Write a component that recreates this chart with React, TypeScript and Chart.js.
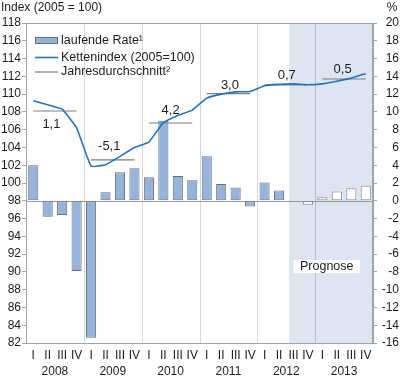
import React, { useEffect, useRef } from "react";
import { Chart, registerables } from "chart.js";

Chart.register(...registerables);

// ---- data ----
const quarterLabels = [
  "I", "II", "III", "IV",
  "I", "II", "III", "IV",
  "I", "II", "III", "IV",
  "I", "II", "III", "IV",
  "I", "II", "III", "IV",
  "I", "II", "III", "IV",
];
const years = ["2008", "2009", "2010", "2011", "2012", "2013"];

// laufende Rate (%), right axis
const laufendeRate = [
  4.0, -1.8, -1.6, -7.9,
  -15.4, 0.95, 3.2, 3.65,
  2.65, 9.0, 2.8, 2.3,
  5.0, 1.9, 1.5, -0.65,
  2.05, 1.15, 0.0, -0.45,
  0.4, 1.05, 1.4, 1.7,
];

// Kettenindex (2005=100), left axis
const kettenindex = [
  109.25, 108.8, 108.3, 106.2,
  101.9, 102.05, 103.0, 104.0,
  104.6, 106.8, 107.6, 108.2,
  109.55, 110.0, 110.25, 110.3,
  110.95, 111.1, 111.15, 111.05,
  111.15, 111.45, 111.8, 112.3,
];

// Jahresdurchschnitt (index level of the yearly average) and its rate label
const jahresdurchschnitt = [108.1, 102.6, 106.75, 110.05, 111.05, 111.7];
const jahresRate = ["1,1", "-5,1", "4,2", "3,0", "0,7", "0,5"];

const forecastStartIndex = 18; // 2012 Q3
const indexMin = 82;
const indexMax = 118;
const rateMin = -16;
const rateMax = 20;
const tickStep = 2;

// ---- styles ----
const FONT = '"Liberation Sans", Arial, Helvetica, sans-serif';
const TEXT = "#1c1c1c";
const BAR_BLUE = "#94b4dc";
const BAR_BORDER = "#66707c";
const FC_BORDER = "#8c8c8c";
const LINE_BLUE = "#1f74c4";
const AVG_GRAY = "#7d7d7d";
const SHADE = "#dee5f2";
const FRAME = "#a3a3a3";
const SEP = "#d6d6d6";
const SEP_SHADE = "#b7bfcd";

const avgData = quarterLabels.map((_, i) => jahresdurchschnitt[Math.floor(i / 4)]);

const decorPlugin = {
  id: "decor",
  beforeDatasetsDraw(chart: any) {
    const { ctx, chartArea: a, scales } = chart;
    const xs = scales.x;
    const y2 = scales.y2;
    ctx.save();
    // forecast shading
    const shadeLeft = xs.getPixelForValue(forecastStartIndex - 0.3);
    ctx.fillStyle = SHADE;
    ctx.fillRect(shadeLeft, a.top, a.right - shadeLeft, a.bottom - a.top);
    // year separators
    ctx.lineWidth = 1;
    for (let k = 1; k < years.length; k++) {
      const px = Math.round(xs.getPixelForValue(4 * k - 0.5)) + 0.5;
      ctx.strokeStyle = px > shadeLeft ? SEP_SHADE : SEP;
      ctx.beginPath();
      ctx.moveTo(px, a.top);
      ctx.lineTo(px, a.bottom);
      ctx.stroke();
    }
    // zero line
    const zy = Math.round(y2.getPixelForValue(0)) + 0.5;
    ctx.strokeStyle = "#9a9a9a";
    ctx.beginPath();
    ctx.moveTo(a.left, zy);
    ctx.lineTo(a.right, zy);
    ctx.stroke();
    ctx.restore();
  },
  afterDatasetsDraw(chart: any) {
    const { ctx, chartArea: a, scales } = chart;
    const xs = scales.x;
    const ys = scales.y;
    ctx.save();
    // frame
    ctx.strokeStyle = FRAME;
    ctx.lineWidth = 1;
    ctx.strokeRect(Math.round(a.left) + 0.5, Math.round(a.top) + 0.5,
      Math.round(a.right - a.left) - 1, Math.round(a.bottom - a.top));

    // yearly average labels
    const dy = [13, -13, -12.3, -8, -9.5, -9.5];
    const dx = [-3.5, -3.5, 0, 1.5, 0.5, -1.5];
    ctx.font = `13px ${FONT}`;
    ctx.fillStyle = TEXT;
    ctx.textAlign = "center";
    ctx.textBaseline = "middle";
    jahresRate.forEach((t, k) => {
      const x = (xs.getPixelForValue(4 * k + 1) + xs.getPixelForValue(4 * k + 2)) / 2 + dx[k];
      const y = ys.getPixelForValue(jahresdurchschnitt[k]) + dy[k];
      ctx.fillText(t, x, y);
    });

    // Prognose box
    ctx.font = `12.5px ${FONT}`;
    const pText = "Prognose";
    const pw = ctx.measureText(pText).width + 13;
    const ph = 13;
    const pcx = xs.getPixelForValue(20.3);
    const pcy = ys.getPixelForValue(90.6);
    ctx.fillStyle = "#ffffff";
    ctx.fillRect(pcx - pw / 2, pcy - ph / 2, pw, ph);
    ctx.fillStyle = TEXT;
    ctx.fillText(pText, pcx, pcy);

    // legend
    const lx = 35;
    const lw = 23;
    const tx = 61;
    ctx.textAlign = "left";
    ctx.font = `12.5px ${FONT}`;
    // bar
    ctx.fillStyle = BAR_BLUE;
    ctx.fillRect(lx, 37, lw, 6);
    ctx.strokeStyle = BAR_BORDER;
    ctx.strokeRect(lx + 0.5, 37.5, lw - 1, 6);
    ctx.fillStyle = TEXT;
    ctx.fillText("laufende Rate\u00b9", tx, 40.5);
    // index line
    ctx.strokeStyle = LINE_BLUE;
    ctx.lineWidth = 1.6;
    ctx.beginPath();
    ctx.moveTo(lx, 57.5);
    ctx.lineTo(lx + lw, 57.5);
    ctx.stroke();
    ctx.fillText("Kettenindex (2005=100)", tx, 57.5);
    // avg line
    ctx.strokeStyle = AVG_GRAY;
    ctx.lineWidth = 1.2;
    ctx.beginPath();
    ctx.moveTo(lx, 72);
    ctx.lineTo(lx + lw, 72);
    ctx.stroke();
    ctx.fillText("Jahresdurchschnitt\u00b2", tx, 72);

    ctx.restore();
  },
  afterDraw(chart: any) {
    const { ctx } = chart;
    ctx.save();
    ctx.font = `12px ${FONT}`;
    ctx.fillStyle = TEXT;
    ctx.textBaseline = "middle";
    ctx.textAlign = "left";
    ctx.fillText("Index (2005 = 100)", 1, 7.5);
    ctx.textAlign = "center";
    ctx.fillText("%", 392, 7.5);
    ctx.restore();
  },
};

export default function App() {
  const ref = useRef<HTMLCanvasElement | null>(null);

  useEffect(() => {
    if (!ref.current) return;
    const tickFont = { family: FONT, size: 12 };
    const chart = new Chart(ref.current, {
      type: "bar",
      data: {
        labels: quarterLabels,
        datasets: [
          {
            type: "line",
            label: "Kettenindex (2005=100)",
            data: kettenindex,
            yAxisID: "y",
            xAxisID: "x",
            borderColor: LINE_BLUE,
            borderWidth: 1.6,
            pointRadius: 0,
            tension: 0.1,
            order: 1,
          } as any,
          {
            type: "line",
            label: "Jahresdurchschnitt",
            data: avgData,
            yAxisID: "y",
            xAxisID: "x",
            borderColor: AVG_GRAY,
            borderWidth: 1.2,
            pointRadius: 0,
            tension: 0,
            segment: {
              borderColor: (c: any) => (c.p0DataIndex % 4 === 3 ? "rgba(0,0,0,0)" : AVG_GRAY),
            },
            order: 2,
          } as any,
          {
            type: "bar",
            label: "laufende Rate",
            data: laufendeRate,
            yAxisID: "y2",
            xAxisID: "x",
            backgroundColor: laufendeRate.map((_, i) => (i >= forecastStartIndex ? "#ffffff" : BAR_BLUE)),
            borderColor: laufendeRate.map((_, i) => (i >= forecastStartIndex ? FC_BORDER : BAR_BORDER)),
            borderWidth: 1,
            borderSkipped: false,
            barPercentage: 0.7,
            categoryPercentage: 1,
            order: 3,
          } as any,
        ],
      },
      options: {
        responsive: false,
        animation: false,
        layout: { padding: { top: 23, right: 1, left: 0, bottom: 0 } },
        plugins: { legend: { display: false }, tooltip: { enabled: false } },
        scales: {
          x: {
            type: "category",
            position: "bottom",
            weight: 0,
            offset: true,
            grid: { display: false, drawTicks: false, tickLength: 0 },
            border: { display: false },
            ticks: { font: tickFont, color: TEXT, padding: 5, autoSkip: false, maxRotation: 0 },
            afterFit: (s: any) => { s.height = 20; },
          },
          x2: {
            type: "category",
            labels: years,
            position: "bottom",
            weight: 1,
            offset: true,
            grid: { display: false, drawTicks: false, tickLength: 0 },
            border: { display: false },
            ticks: { font: tickFont, color: TEXT, padding: 1, autoSkip: false, maxRotation: 0 },
            afterFit: (s: any) => { s.height = 17; },
          },
          y: {
            position: "left",
            min: indexMin,
            max: indexMax,
            ticks: { stepSize: tickStep, font: tickFont, color: TEXT, padding: 1 },
            grid: { drawOnChartArea: false, tickLength: 4, color: FRAME },
            border: { color: FRAME },
            afterFit: (s: any) => { s.width = 26; },
          },
          y2: {
            position: "right",
            min: rateMin,
            max: rateMax,
            ticks: { stepSize: tickStep, font: tickFont, color: TEXT, padding: 1, crossAlign: "far" },
            grid: { drawOnChartArea: false, tickLength: 4, color: FRAME },
            border: { color: FRAME },
            afterFit: (s: any) => { s.width = 26; },
          },
        },
      } as any,
      plugins: [decorPlugin],
    });
    return () => chart.destroy();
  }, []);

  return (
    <div style={{ position: "absolute", left: 0, top: 0, width: 400, height: 380, background: "#fff" }}>
      <canvas ref={ref} width={400} height={380} style={{ display: "block", width: 400, height: 380 }} />
    </div>
  );
}
